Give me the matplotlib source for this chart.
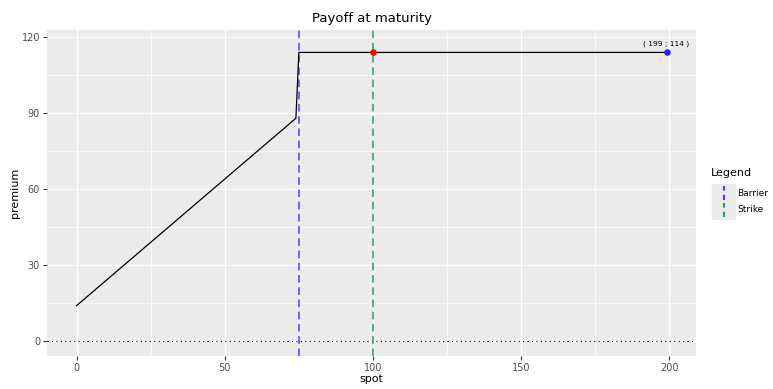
import matplotlib
matplotlib.use("Agg")
import matplotlib.pyplot as plt
from matplotlib.lines import Line2D

# payoff curve breakpoints
spot = [0, 74, 75, 199]
premium = [14, 88, 114, 114]

barrier = 75
strike = 100
strike_premium = 114
last_spot, last_premium = 199, 114

x_ticks = [0, 50, 100, 150, 200]
y_ticks = [0, 30, 60, 90, 120]
x_minor = [25, 75, 125, 175]
y_minor = [15, 45, 75, 105]

legend_labels = ["Barrier", "Strike"]

PANEL = "#ebebeb"
BARRIER_C = "#6a2dff"
STRIKE_C = "#2e9a55"
W, H = 773, 389

plt.rcParams["font.family"] = ["DejaVu Sans"]

fig = plt.figure(figsize=(W / 100, H / 100), dpi=100)
ax = fig.add_axes([47 / W, 1 - 356 / H, (696 - 47) / W, (356 - 30) / H])
ax.set_facecolor(PANEL)
for s in ax.spines.values():
    s.set_visible(False)

ax.set_xlim(-9.95, 208.95)
ax.set_ylim(-5.85, 122.85)
ax.set_xticks(x_ticks)
ax.set_yticks(y_ticks)
ax.set_xticks(x_minor, minor=True)
ax.set_yticks(y_minor, minor=True)
ax.tick_params(which="minor", length=0)
ax.tick_params(which="major", length=3, color="#333333", labelcolor="#4d4d4d",
               labelsize=7, width=0.8, pad=2)
ax.grid(which="major", color="white", linewidth=1.0)
ax.grid(which="minor", color="white", linewidth=0.5)
ax.set_axisbelow(True)

ax.axhline(0, color="black", linestyle=(0, (1, 3)), linewidth=0.8)
ax.plot(spot, premium, color="black", linewidth=0.9, zorder=3)
ax.axvline(barrier, color=BARRIER_C, linestyle=(0, (5, 3)), linewidth=1.1, zorder=2)
ax.axvline(strike, color=STRIKE_C, linestyle=(0, (5, 3)), linewidth=1.1, zorder=2)
ax.scatter([strike], [strike_premium], s=14, color="red", zorder=4)
ax.scatter([last_spot], [last_premium], s=14, color="#2020ff", zorder=4)
ax.text(last_spot, last_premium + 2.3, "( %d ; %d )" % (last_spot, last_premium),
        ha="center", va="bottom", fontsize=5.4, color="black")

ax.set_xlabel("spot", fontsize=8, labelpad=1)
ax.set_ylabel("premium", fontsize=8, labelpad=1)
ax.set_title("Payoff at maturity", fontsize=9.5, pad=6)

# legend drawn by hand: vertical dashed keys on grey boxes
fig.text(711 / W, 1 - 173 / H, "Legend", fontsize=8, ha="left", va="center")
for i, (lab, col) in enumerate(zip(legend_labels, [BARRIER_C, STRIKE_C])):
    yc = 193 + 17 * i
    fig.patches.append(plt.Rectangle((712 / W, 1 - (yc + 8.5) / H), 23 / W, 17 / H,
                                     transform=fig.transFigure, color=PANEL, zorder=0))
    fig.lines.append(Line2D([723.5 / W, 723.5 / W], [1 - (yc + 7) / H, 1 - (yc - 7) / H],
                            transform=fig.transFigure, color=col, linewidth=1.5,
                            linestyle=(0, (2.5, 2))))
    fig.text(737 / W, 1 - yc / H, lab, fontsize=6.5, ha="left", va="center")

fig.savefig("out.png", dpi=100)
